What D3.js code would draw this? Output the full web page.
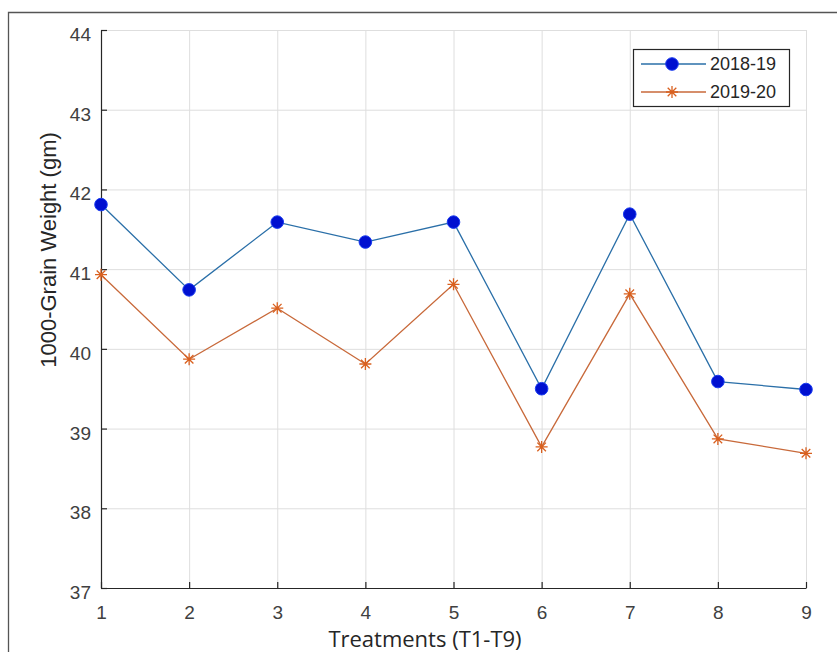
<!DOCTYPE html>
<html>
<head>
  <meta charset="utf-8">
  <title>1000-Grain Weight</title>
  <style>
    body { margin: 0; background: #fff; }
    svg { display: block; font-family: "Liberation Sans", Arial, sans-serif; }
    .grid line { stroke: #dedede; stroke-width: 1; }
    .grid .domain { display: none; }
    .axis .domain, .axis line { stroke: #262626; stroke-width: 1.2; }
    .axis text { fill: #404040; font-size: 19px; }
  </style>
</head>
<body>
  <svg id="chart" width="837" height="652"></svg>

  <script src="https://d3js.org/d3.v7.min.js"></script>
  <script>
    // treatments on the x axis
    const treatments = [1, 2, 3, 4, 5, 6, 7, 8, 9];
    // values
    const season1 = [41.81, 40.74, 41.59, 41.34, 41.59, 39.50, 41.69, 39.59, 39.49];
    const season2 = [40.93, 39.87, 40.51, 39.81, 40.81, 38.77, 40.69, 38.87, 38.69];
    const seriesNames = ['2018-19', '2019-20'];
    const yTicks = [37, 38, 39, 40, 41, 42, 43, 44];

    const margin = { top: 30, right: 31, bottom: 64, left: 101 };
    const W = 837, H = 652;
    const width = W - margin.left - margin.right;
    const height = H - margin.top - margin.bottom;

    const x = d3.scaleLinear().domain([1, 9]).range([0, width]);
    const y = d3.scaleLinear().domain([37, 44]).range([height, 0]);

    const svg = d3.select('#chart');

    // outer frame (top and left edges are visible)
    svg.append('path')
      .attr('d', `M8.5,${H} V12.5 H${W}`)
      .attr('fill', 'none')
      .attr('stroke', '#555')
      .attr('stroke-width', 1.3);

    const g = svg.append('g')
      .attr('transform', `translate(${margin.left},${margin.top})`);

    // grid lines
    g.append('g')
      .attr('class', 'grid')
      .call(d3.axisLeft(y).tickValues(yTicks).tickSize(-width).tickFormat(''));
    g.append('g')
      .attr('class', 'grid')
      .attr('transform', `translate(0,${height})`)
      .call(d3.axisBottom(x).tickValues(treatments).tickSize(-height).tickFormat(''));

    // axes with inward ticks
    const yAxis = g.append('g')
      .attr('class', 'axis')
      .call(d3.axisLeft(y).tickValues(yTicks).tickFormat(d3.format('d'))
        .tickSize(-6).tickSizeOuter(0).tickPadding(10));
    yAxis.selectAll('text').attr('dy', '0.55em');

    g.append('g')
      .attr('class', 'axis')
      .attr('transform', `translate(0,${height})`)
      .call(d3.axisBottom(x).tickValues(treatments).tickFormat(d3.format('d'))
        .tickSize(-6).tickSizeOuter(0).tickPadding(18));

    // lines
    const line = d3.line()
      .x((d, i) => x(treatments[i]))
      .y(d => y(d));

    g.append('path')
      .datum(season1)
      .attr('d', line)
      .attr('fill', 'none')
      .attr('stroke', '#2a6fa8')
      .attr('stroke-width', 1.3);

    g.append('path')
      .datum(season2)
      .attr('d', line)
      .attr('fill', 'none')
      .attr('stroke', '#c8693a')
      .attr('stroke-width', 1.3);

    // markers: filled circles
    g.selectAll('.dot')
      .data(season1)
      .join('circle')
      .attr('class', 'dot')
      .attr('cx', (d, i) => x(treatments[i]))
      .attr('cy', d => y(d))
      .attr('r', 6.3)
      .attr('fill', '#0010d0')
      .attr('stroke', '#1a3cf0')
      .attr('stroke-width', 1);

    // markers: asterisks
    const star = 'M-6,0H6M0,-6V6M-4.3,-4.3L4.3,4.3M-4.3,4.3L4.3,-4.3';
    g.selectAll('.star')
      .data(season2)
      .join('path')
      .attr('class', 'star')
      .attr('transform', (d, i) => `translate(${x(treatments[i])},${y(d)})`)
      .attr('d', star)
      .attr('fill', 'none')
      .attr('stroke', '#d9601f')
      .attr('stroke-width', 1.3);

    // axis titles
    svg.append('text')
      .attr('transform', 'translate(56,250) rotate(-90)')
      .attr('text-anchor', 'middle')
      .style('font-size', '22px')
      .style('fill', '#262626')
      .text('1000-Grain Weight (gm)');

    svg.append('text')
      .attr('x', 425)
      .attr('y', 647)
      .attr('text-anchor', 'middle')
      .style('font-family', '"Open Sans", "Noto Sans", sans-serif')
      .style('font-size', '22px')
      .style('fill', '#262626')
      .text('Treatments (T1-T9)');

    // legend
    const legend = svg.append('g').attr('transform', 'translate(633,49)');
    legend.append('rect')
      .attr('x', 0.5).attr('y', 0.5)
      .attr('width', 156).attr('height', 57)
      .attr('fill', '#fff')
      .attr('stroke', '#262626')
      .attr('stroke-width', 1.2);

    const rows = legend.selectAll('.row')
      .data(seriesNames)
      .join('g')
      .attr('class', 'row')
      .attr('transform', (d, i) => `translate(0,${15 + i * 28})`);

    rows.append('line')
      .attr('x1', 8).attr('x2', 73)
      .attr('stroke', (d, i) => i === 0 ? '#2a6fa8' : '#c8693a')
      .attr('stroke-width', 1.3);

    rows.filter((d, i) => i === 0).append('circle')
      .attr('cx', 39).attr('r', 6.3)
      .attr('fill', '#0010d0')
      .attr('stroke', '#1a3cf0');

    rows.filter((d, i) => i === 1).append('path')
      .attr('transform', 'translate(39,0)')
      .attr('d', star)
      .attr('fill', 'none')
      .attr('stroke', '#d9601f')
      .attr('stroke-width', 1.3);

    rows.append('text')
      .attr('x', 77)
      .attr('dy', '0.36em')
      .style('font-size', '18px')
      .style('fill', '#262626')
      .text(d => d);
  </script>
</body>
</html>
